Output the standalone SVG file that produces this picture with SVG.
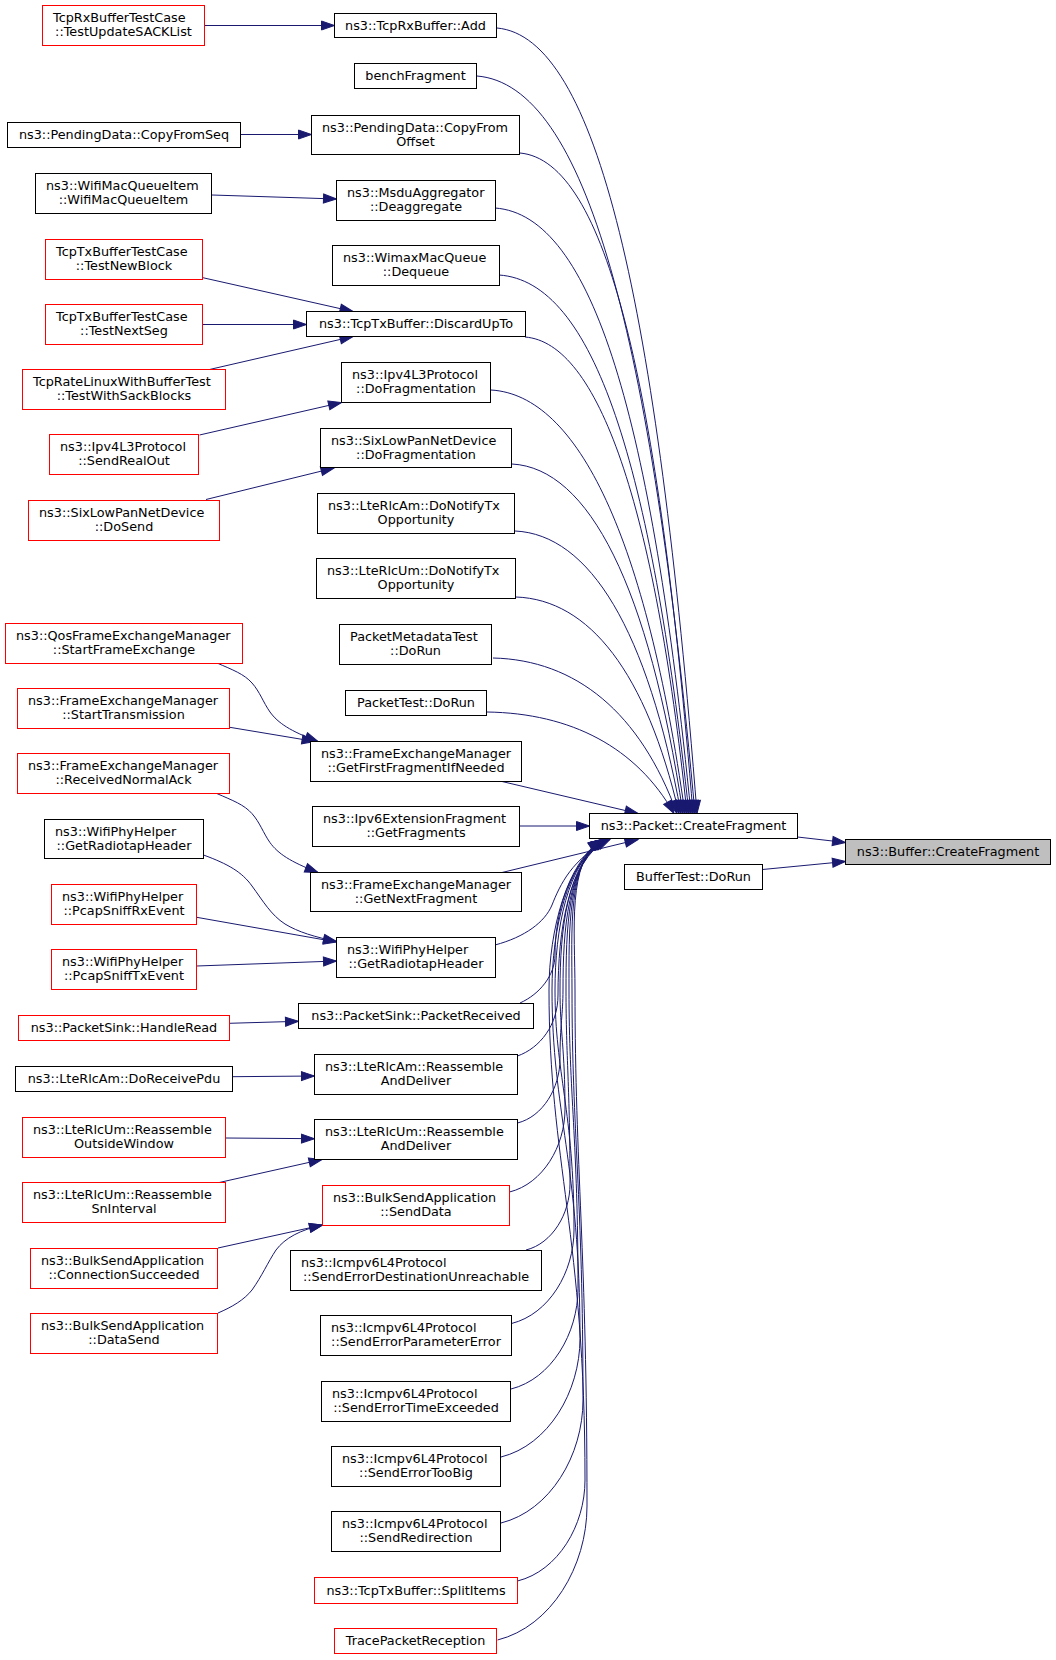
<svg xmlns="http://www.w3.org/2000/svg" width="1056" height="1660" viewBox="0 0 1056 1660">
<defs>
<style>
rect{fill:#ffffff;stroke:#000000;stroke-width:1}
.r rect{stroke:#ff0000}
.root rect{fill:#bfbfbf}
text{font-family:"DejaVu Sans","Liberation Sans",sans-serif;font-size:12.8px;fill:#000000}
.m{text-anchor:middle}
.s{text-anchor:start}
#edges path{fill:none;stroke:#191970;stroke-width:1;marker-end:url(#arr)}
</style>
<marker id="arr" markerUnits="userSpaceOnUse" viewBox="0 0 13 9" refX="13" refY="4.5" markerWidth="13" markerHeight="9" orient="auto" overflow="visible">
<path d="M0,0 L13,4.5 L0,9 Z" fill="#191970" stroke="#191970" stroke-width="1"/>
</marker>
</defs>
<rect x="0" y="0" width="1056" height="1660" style="fill:#ffffff;stroke:none"/>
<g id="edges">
<path d="M205,25.5 L334.5,25.5"/>
<path d="M240.5,134.5 L311.5,134.5"/>
<path d="M212,195 L336.5,199"/>
<path d="M202,277.5 L353,311.5"/>
<path d="M202.5,324.5 L306.5,324.5"/>
<path d="M209.5,369.5 L353,336.5"/>
<path d="M199.5,435 L341.5,402.5"/>
<path d="M206,499.5 L334,468"/>
<path d="M216.3,662.7 C233,670 244,674 252,683 C260,692 263,702 270,712 C278,723 290,731 318,741.5"/>
<path d="M229.8,727.3 L315,741.5"/>
<path d="M216.3,793.3 C233,800.6 244,804.6 252,813.6 C260,822.6 263,832.6 270,842.6 C278,853.6 290,861.6 318,872.5"/>
<path d="M203.5,855 C228,864 242,872 252,886 C263,901 271,915 285,924 C298,932 315,937 336.5,941.5"/>
<path d="M196.7,917.3 L336.5,942"/>
<path d="M196.7,966 L336.5,961"/>
<path d="M229.2,1023.3 L298.5,1021.3"/>
<path d="M232.2,1076.7 L314.5,1076"/>
<path d="M225.5,1138 L314.5,1138.7"/>
<path d="M217,1183 L322,1159.5"/>
<path d="M218,1248 L322.5,1225"/>
<path d="M218,1313 C232,1307 244,1300 252,1290 C262,1276 268,1262 276,1250 C285,1238 300,1230 322.5,1225"/>
<path d="M497,28 C597,37 657,303 697,813.5"/>
<path d="M477,76 C586,85 651.4,334.1 695,813.5"/>
<path d="M520,153 C606.5,161 658.4,384.2 693,813.5"/>
<path d="M495,208 C593,215 651.8,419.9 691,813.5"/>
<path d="M499,275 C594,281.5 651,463.5 689,813.5"/>
<path d="M525,337 C597.9,342.7 654.6,503.8 687,813.5"/>
<path d="M491,390 C578.3,395.1 646.2,538.2 685,813.5"/>
<path d="M512,464 C589,468.2 648.8,586.3 683,813.5"/>
<path d="M515,531 C589.7,534.4 647.8,629.9 681,813.5"/>
<path d="M516,597 C589.4,599.6 646.4,672.8 679,813.5"/>
<path d="M493,658 C575.8,659.9 640.2,712.4 677,813.5"/>
<path d="M487,712 C571.2,713.2 636.6,747.5 674,813.5"/>
<path d="M502,781.5 L638,813.5"/>
<path d="M519.5,826 L589.5,826"/>
<path d="M502,872.5 L638,839.5"/>
<path d="M495,945 C525,937 545,922 552,905 C560,885 572,858 610,839.5"/>
<path d="M520,1003 C540,994 555,975 555,955 C555,915 568,860 608,839.5"/>
<path d="M517.5,1056 C540,1048 558,1025 558,995 C558,930 568,862 607,839.5"/>
<path d="M517.5,1123 C543,1116.6 560,1087.8 560,1059 C560,1024.5 563,1014.2 563,990 C563,930 567,862 606,839.5"/>
<path d="M509.5,1192 C542.8,1183.7 565,1146.4 565,1109 C565,1049.5 560,1031.2 560,990 C560,930 567,862 605,839.5"/>
<path d="M526,1250 C552.4,1243.4 570,1213.7 570,1184 C570,1087 566,1057.9 566,990 C566,930 567,862 604,839.5"/>
<path d="M511.5,1323.5 C549,1314.2 574,1272.1 574,1230 C574,1110 555,1074 555,990 C555,930 567,862 604,839.5"/>
<path d="M511,1389 C551.2,1378.9 578,1333.8 578,1288.5 C578,1139.3 569,1094.5 569,990 C569,930 567,862 603,839.5"/>
<path d="M501,1457 C548.4,1445.2 580,1391.8 580,1338.5 C580,1164.3 552,1112 552,990 C552,930 567,862 603,839.5"/>
<path d="M501,1523 C550.2,1510.7 583,1455.4 583,1400 C583,1195 572,1133.5 572,990 C572,930 567,862 602,839.5"/>
<path d="M517.5,1581 C558,1570.9 585,1525.5 585,1480 C585,1235 549,1161.5 549,990 C549,930 567,862 602,839.5"/>
<path d="M497.5,1640 C551.2,1626.6 587,1566.3 587,1506 C587,1248 575,1170.6 575,990 C575,930 567,862 601,839.5"/>
<path d="M797.5,837 L845.5,842.5"/>
<path d="M762.5,869.5 L845.5,861.5"/>
</g>
<g id="n_L1" class="r"><rect x="42.5" y="5.5" width="162" height="40"/><text class="s" x="53" y="21.5">TcpRxBufferTestCase</text><text class="m" x="123.5" y="35.5">::TestUpdateSACKList</text></g>
<g id="n_L2"><rect x="7.5" y="122.5" width="233" height="25"/><text class="m" x="124" y="139">ns3::PendingData::CopyFromSeq</text></g>
<g id="n_L3"><rect x="35.5" y="173.5" width="176" height="40"/><text class="s" x="46" y="189.5">ns3::WifiMacQueueItem</text><text class="m" x="123.5" y="203.5">::WifiMacQueueItem</text></g>
<g id="n_L4" class="r"><rect x="45.5" y="239.5" width="157" height="40"/><text class="s" x="56" y="255.5">TcpTxBufferTestCase</text><text class="m" x="124" y="269.5">::TestNewBlock</text></g>
<g id="n_L5" class="r"><rect x="45.5" y="304.5" width="157" height="40"/><text class="s" x="56" y="320.5">TcpTxBufferTestCase</text><text class="m" x="124" y="334.5">::TestNextSeg</text></g>
<g id="n_L6" class="r"><rect x="22.5" y="369.5" width="203" height="40"/><text class="s" x="33" y="385.5">TcpRateLinuxWithBufferTest</text><text class="m" x="124" y="399.5">::TestWithSackBlocks</text></g>
<g id="n_L7" class="r"><rect x="49.5" y="434.5" width="149" height="40"/><text class="s" x="60" y="450.5">ns3::Ipv4L3Protocol</text><text class="m" x="124" y="464.5">::SendRealOut</text></g>
<g id="n_L8" class="r"><rect x="28.5" y="500.5" width="191" height="40"/><text class="s" x="39" y="516.5">ns3::SixLowPanNetDevice</text><text class="m" x="124" y="530.5">::DoSend</text></g>
<g id="n_L9" class="r"><rect x="5.5" y="623.5" width="237" height="40"/><text class="s" x="16" y="639.5">ns3::QosFrameExchangeManager</text><text class="m" x="124" y="653.5">::StartFrameExchange</text></g>
<g id="n_L10" class="r"><rect x="17.5" y="688.5" width="212" height="40"/><text class="s" x="28" y="704.5">ns3::FrameExchangeManager</text><text class="m" x="123.5" y="718.5">::StartTransmission</text></g>
<g id="n_L11" class="r"><rect x="17.5" y="753.5" width="212" height="40"/><text class="s" x="28" y="769.5">ns3::FrameExchangeManager</text><text class="m" x="123.5" y="783.5">::ReceivedNormalAck</text></g>
<g id="n_L12"><rect x="44.5" y="819.5" width="159" height="39"/><text class="s" x="55" y="835.5">ns3::WifiPhyHelper</text><text class="m" x="124" y="849.5">::GetRadiotapHeader</text></g>
<g id="n_L13" class="r"><rect x="51.5" y="884.5" width="145" height="40"/><text class="s" x="62" y="900.5">ns3::WifiPhyHelper</text><text class="m" x="124" y="914.5">::PcapSniffRxEvent</text></g>
<g id="n_L14" class="r"><rect x="51.5" y="949.5" width="145" height="40"/><text class="s" x="62" y="965.5">ns3::WifiPhyHelper</text><text class="m" x="124" y="979.5">::PcapSniffTxEvent</text></g>
<g id="n_L15" class="r"><rect x="18.5" y="1015.5" width="211" height="25"/><text class="m" x="124" y="1032">ns3::PacketSink::HandleRead</text></g>
<g id="n_L16"><rect x="15.5" y="1066.5" width="217" height="25"/><text class="m" x="124" y="1083">ns3::LteRlcAm::DoReceivePdu</text></g>
<g id="n_L17" class="r"><rect x="22.5" y="1117.5" width="203" height="40"/><text class="s" x="33" y="1133.5">ns3::LteRlcUm::Reassemble</text><text class="m" x="124" y="1147.5">OutsideWindow</text></g>
<g id="n_L18" class="r"><rect x="22.5" y="1182.5" width="203" height="40"/><text class="s" x="33" y="1198.5">ns3::LteRlcUm::Reassemble</text><text class="m" x="124" y="1212.5">SnInterval</text></g>
<g id="n_L19" class="r"><rect x="30.5" y="1248.5" width="187" height="40"/><text class="s" x="41" y="1264.5">ns3::BulkSendApplication</text><text class="m" x="124" y="1278.5">::ConnectionSucceeded</text></g>
<g id="n_L20" class="r"><rect x="30.5" y="1313.5" width="187" height="40"/><text class="s" x="41" y="1329.5">ns3::BulkSendApplication</text><text class="m" x="124" y="1343.5">::DataSend</text></g>
<g id="n_M1"><rect x="334.5" y="13.5" width="162" height="24"/><text class="m" x="415.5" y="30">ns3::TcpRxBuffer::Add</text></g>
<g id="n_M2"><rect x="354.5" y="63.5" width="122" height="25"/><text class="m" x="415.5" y="80">benchFragment</text></g>
<g id="n_M3"><rect x="311.5" y="115.5" width="208" height="39"/><text class="s" x="322" y="131.5">ns3::PendingData::CopyFrom</text><text class="m" x="415.5" y="145.5">Offset</text></g>
<g id="n_M4"><rect x="336.5" y="180.5" width="159" height="40"/><text class="s" x="347" y="196.5">ns3::MsduAggregator</text><text class="m" x="416" y="210.5">::Deaggregate</text></g>
<g id="n_M5"><rect x="332.5" y="245.5" width="167" height="40"/><text class="s" x="343" y="261.5">ns3::WimaxMacQueue</text><text class="m" x="416" y="275.5">::Dequeue</text></g>
<g id="n_M6"><rect x="306.5" y="311.5" width="219" height="25"/><text class="m" x="416" y="328">ns3::TcpTxBuffer::DiscardUpTo</text></g>
<g id="n_M7"><rect x="341.5" y="362.5" width="149" height="40"/><text class="s" x="352" y="378.5">ns3::Ipv4L3Protocol</text><text class="m" x="416" y="392.5">::DoFragmentation</text></g>
<g id="n_M8"><rect x="320.5" y="428.5" width="191" height="39"/><text class="s" x="331" y="444.5">ns3::SixLowPanNetDevice</text><text class="m" x="416" y="458.5">::DoFragmentation</text></g>
<g id="n_M9"><rect x="317.5" y="493.5" width="197" height="40"/><text class="s" x="328" y="509.5">ns3::LteRlcAm::DoNotifyTx</text><text class="m" x="416" y="523.5">Opportunity</text></g>
<g id="n_M10"><rect x="316.5" y="558.5" width="199" height="40"/><text class="s" x="327" y="574.5">ns3::LteRlcUm::DoNotifyTx</text><text class="m" x="416" y="588.5">Opportunity</text></g>
<g id="n_M11"><rect x="339.5" y="624.5" width="152" height="40"/><text class="s" x="350" y="640.5">PacketMetadataTest</text><text class="m" x="415.5" y="654.5">::DoRun</text></g>
<g id="n_M12"><rect x="345.5" y="690.5" width="141" height="25"/><text class="m" x="416" y="707">PacketTest::DoRun</text></g>
<g id="n_M13"><rect x="310.5" y="741.5" width="211" height="40"/><text class="s" x="321" y="757.5">ns3::FrameExchangeManager</text><text class="m" x="416" y="771.5">::GetFirstFragmentIfNeeded</text></g>
<g id="n_M14"><rect x="312.5" y="806.5" width="207" height="40"/><text class="s" x="323" y="822.5">ns3::Ipv6ExtensionFragment</text><text class="m" x="416" y="836.5">::GetFragments</text></g>
<g id="n_M15"><rect x="310.5" y="872.5" width="211" height="39"/><text class="s" x="321" y="888.5">ns3::FrameExchangeManager</text><text class="m" x="416" y="902.5">::GetNextFragment</text></g>
<g id="n_M16"><rect x="336.5" y="937.5" width="159" height="40"/><text class="s" x="347" y="953.5">ns3::WifiPhyHelper</text><text class="m" x="416" y="967.5">::GetRadiotapHeader</text></g>
<g id="n_M17"><rect x="298.5" y="1003.5" width="235" height="25"/><text class="m" x="416" y="1020">ns3::PacketSink::PacketReceived</text></g>
<g id="n_M18"><rect x="314.5" y="1054.5" width="203" height="40"/><text class="s" x="325" y="1070.5">ns3::LteRlcAm::Reassemble</text><text class="m" x="416" y="1084.5">AndDeliver</text></g>
<g id="n_M19"><rect x="314.5" y="1119.5" width="203" height="40"/><text class="s" x="325" y="1135.5">ns3::LteRlcUm::Reassemble</text><text class="m" x="416" y="1149.5">AndDeliver</text></g>
<g id="n_M20" class="r"><rect x="322.5" y="1185.5" width="187" height="40"/><text class="s" x="333" y="1201.5">ns3::BulkSendApplication</text><text class="m" x="416" y="1215.5">::SendData</text></g>
<g id="n_M21"><rect x="290.5" y="1250.5" width="251" height="40"/><text class="s" x="301" y="1266.5">ns3::Icmpv6L4Protocol</text><text class="m" x="416" y="1280.5">::SendErrorDestinationUnreachable</text></g>
<g id="n_M22"><rect x="320.5" y="1315.5" width="191" height="40"/><text class="s" x="331" y="1331.5">ns3::Icmpv6L4Protocol</text><text class="m" x="416" y="1345.5">::SendErrorParameterError</text></g>
<g id="n_M23"><rect x="321.5" y="1381.5" width="189" height="40"/><text class="s" x="332" y="1397.5">ns3::Icmpv6L4Protocol</text><text class="m" x="416" y="1411.5">::SendErrorTimeExceeded</text></g>
<g id="n_M24"><rect x="331.5" y="1446.5" width="169" height="40"/><text class="s" x="342" y="1462.5">ns3::Icmpv6L4Protocol</text><text class="m" x="416" y="1476.5">::SendErrorTooBig</text></g>
<g id="n_M25"><rect x="331.5" y="1511.5" width="169" height="40"/><text class="s" x="342" y="1527.5">ns3::Icmpv6L4Protocol</text><text class="m" x="416" y="1541.5">::SendRedirection</text></g>
<g id="n_M26" class="r"><rect x="314.5" y="1577.5" width="203" height="26"/><text class="m" x="416" y="1594.5">ns3::TcpTxBuffer::SplitItems</text></g>
<g id="n_M27" class="r"><rect x="334.5" y="1628.5" width="162" height="25"/><text class="m" x="415.5" y="1645">TracePacketReception</text></g>
<g id="n_P"><rect x="589.5" y="813.5" width="208" height="25"/><text class="m" x="693.5" y="830">ns3::Packet::CreateFragment</text></g>
<g id="n_BT"><rect x="624.5" y="864.5" width="138" height="25"/><text class="m" x="693.5" y="881">BufferTest::DoRun</text></g>
<g id="n_R" class="root"><rect x="845.5" y="839.5" width="205" height="25"/><text class="m" x="948" y="856">ns3::Buffer::CreateFragment</text></g>
</svg>
